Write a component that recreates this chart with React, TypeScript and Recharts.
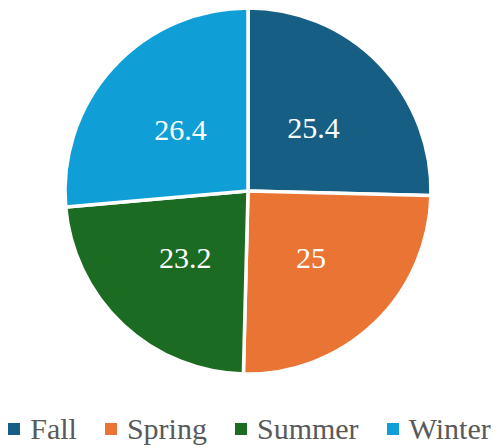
import { PieChart, Pie, Cell, Legend } from 'recharts';

const seasons = ['Fall', 'Spring', 'Summer', 'Winter'];
const shares = [25.4, 25, 23.2, 26.4];
const colors = ['#175e84', '#ea7433', '#1c6b23', '#109ed6'];

const data = seasons.map((name, i) => ({ name, value: shares[i] }));

const RADIAN = Math.PI / 180;
const FONT = "'Liberation Serif', 'Times New Roman', serif";

const renderLabel = (props: any) => {
  const { cx, cy, midAngle, outerRadius, value } = props;
  const r = outerRadius * 0.5;
  const x = cx + r * Math.cos(-midAngle * RADIAN);
  const y = cy + r * Math.sin(-midAngle * RADIAN);
  return (
    <text x={x} y={y} fill="#fff" textAnchor="middle" dominantBaseline="central" fontSize={30} style={{ fontFamily: FONT }}>
      {value}
    </text>
  );
};

const renderLegend = () => (
  <div style={{ display: 'flex', justifyContent: 'center', alignItems: 'center', gap: 28, fontFamily: FONT, fontSize: 30, color: '#595959' }}>
    {seasons.map((s, i) => (
      <div key={s} style={{ display: 'flex', alignItems: 'center' }}>
        <span style={{ width: 12, height: 12, background: colors[i], marginRight: 10, display: 'inline-block' }} />
        <span>{s}</span>
      </div>
    ))}
  </div>
);

export default function App() {
  return (
    <div style={{ position: 'absolute', left: 0, top: 0, fontFamily: FONT }}>
      <PieChart width={499} height={448} margin={{ top: 0, right: 0, bottom: 0, left: 0 }}>
        <Pie
          data={data}
          dataKey="value"
          nameKey="name"
          cx={248}
          cy={191}
          outerRadius={183}
          startAngle={90}
          endAngle={-270}
          stroke="#fff"
          strokeWidth={3.5}
          label={renderLabel}
          labelLine={false}
          isAnimationActive={false}
        >
          {data.map((d, i) => (
            <Cell key={d.name} fill={colors[i]} />
          ))}
        </Pie>
        <Legend content={renderLegend} wrapperStyle={{ top: 412, left: 0, width: 499 }} />
      </PieChart>
    </div>
  );
}
